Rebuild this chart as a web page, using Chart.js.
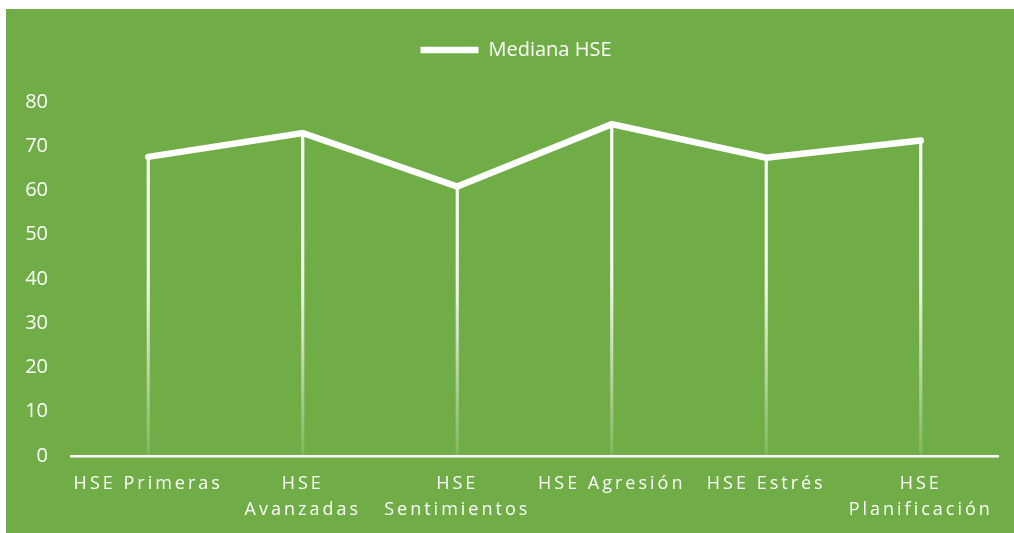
<!DOCTYPE html>
<html>
<head>
<meta charset="utf-8">
<script src="https://cdn.jsdelivr.net/npm/chart.js@4"></script>
<style>
    html, body { margin: 0; padding: 0; background: #ffffff; }
    #wrap { position: absolute; left: 6px; top: 9px; width: 1008px; height: 524px; background: #70ad47; }
</style>
</head>
<body>
<div id="wrap"><canvas id="myChart" width="1008" height="524"></canvas></div>
<script>
const labels = [
    'HSE Primeras',
    ['HSE', 'Avanzadas'],
    ['HSE', 'Sentimientos'],
    'HSE Agresión',
    'HSE Estrés',
    ['HSE', 'Planificación']
];
const mediana = [67.6, 73.0, 60.9, 75.0, 67.4, 71.3];
const yTicks = [0, 10, 20, 30, 40, 50, 60, 70, 80];

const fontFamily = '"Open Sans", "Noto Sans", sans-serif';

// fade the drop lines out towards the axis
function dropGradient(context) {
    const chart = context.chart;
    const area = chart.chartArea;
    if (!area) {
        return 'white';
    }
    const g = chart.ctx.createLinearGradient(0, area.top, 0, area.bottom);
    g.addColorStop(0, 'rgba(255,255,255,1)');
    g.addColorStop(0.5, 'rgba(255,255,255,0.9)');
    g.addColorStop(1, 'rgba(255,255,255,0.12)');
    return g;
}

// extra room under the legend, legend nudged right, spaced out x labels
const tweaks = {
    id: 'tweaks',
    beforeInit(chart) {
        const legend = chart.legend;
        const fit = legend.fit.bind(legend);
        legend.fit = function () {
            fit();
            this.height += 32;
        };
        const drawLegend = legend.draw.bind(legend);
        legend.draw = function () {
            chart.ctx.save();
            chart.ctx.translate(14, 0);
            drawLegend();
            chart.ctx.restore();
        };
    },
    afterLayout(chart) {
        const x = chart.scales.x;
        if (x._spaced) return;
        x._spaced = true;
        const draw = x.drawLabels.bind(x);
        x.drawLabels = function (area) {
            chart.ctx.save();
            chart.ctx.letterSpacing = '3px';
            draw(area);
            chart.ctx.restore();
        };
    }
};

var ctx = document.getElementById('myChart').getContext('2d');

var myChart = new Chart(ctx, { //eslint-disable-line
    data: {
        labels: labels,
        datasets: [
            {
                type: 'line',
                label: 'Mediana HSE',
                data: mediana,
                borderColor: '#ffffff',
                backgroundColor: '#ffffff',
                borderWidth: 6.5,
                borderCapStyle: 'round',
                pointRadius: 0,
                tension: 0,
                clip: false,
                order: 0
            },
            {
                type: 'bar',
                label: 'drop',
                data: mediana,
                backgroundColor: dropGradient,
                borderWidth: 0,
                barThickness: 2.5,
                order: 1
            }
        ]
    },
    options: {
        responsive: false,
        animation: false,
        layout: {
            autoPadding: false,
            padding: { top: 21, left: 0, right: 16, bottom: 0 }
        },
        plugins: {
            tooltip: { enabled: false },
            legend: {
                position: 'top',
                labels: {
                    color: '#ffffff',
                    font: { family: fontFamily, size: 20 },
                    usePointStyle: true,
                    pointStyle: 'line',
                    pointStyleWidth: 58,
                    padding: 10,
                    filter: (item) => item.text === 'Mediana HSE'
                }
            }
        },
        scales: {
            x: {
                grid: { display: false, drawTicks: false },
                border: { display: true, color: '#ffffff', width: 2.5 },
                ticks: {
                    color: '#ffffff',
                    font: { family: fontFamily, size: 18, lineHeight: 1.44 },
                    maxRotation: 0,
                    autoSkip: false,
                    padding: 15
                },
                afterFit: (scale) => { scale.height = 77; }
            },
            y: {
                min: 0,
                max: 80,
                afterBuildTicks: (axis) => {
                    axis.ticks = yTicks.map(v => ({ value: v }));
                },
                grid: { display: false, drawTicks: false },
                border: { display: false },
                ticks: {
                    color: '#ffffff',
                    font: { family: fontFamily, size: 20 },
                    padding: 23
                },
                afterFit: (scale) => { scale.width = 65; }
            }
        }
    },
    plugins: [tweaks]
});
</script>
</body>
</html>
